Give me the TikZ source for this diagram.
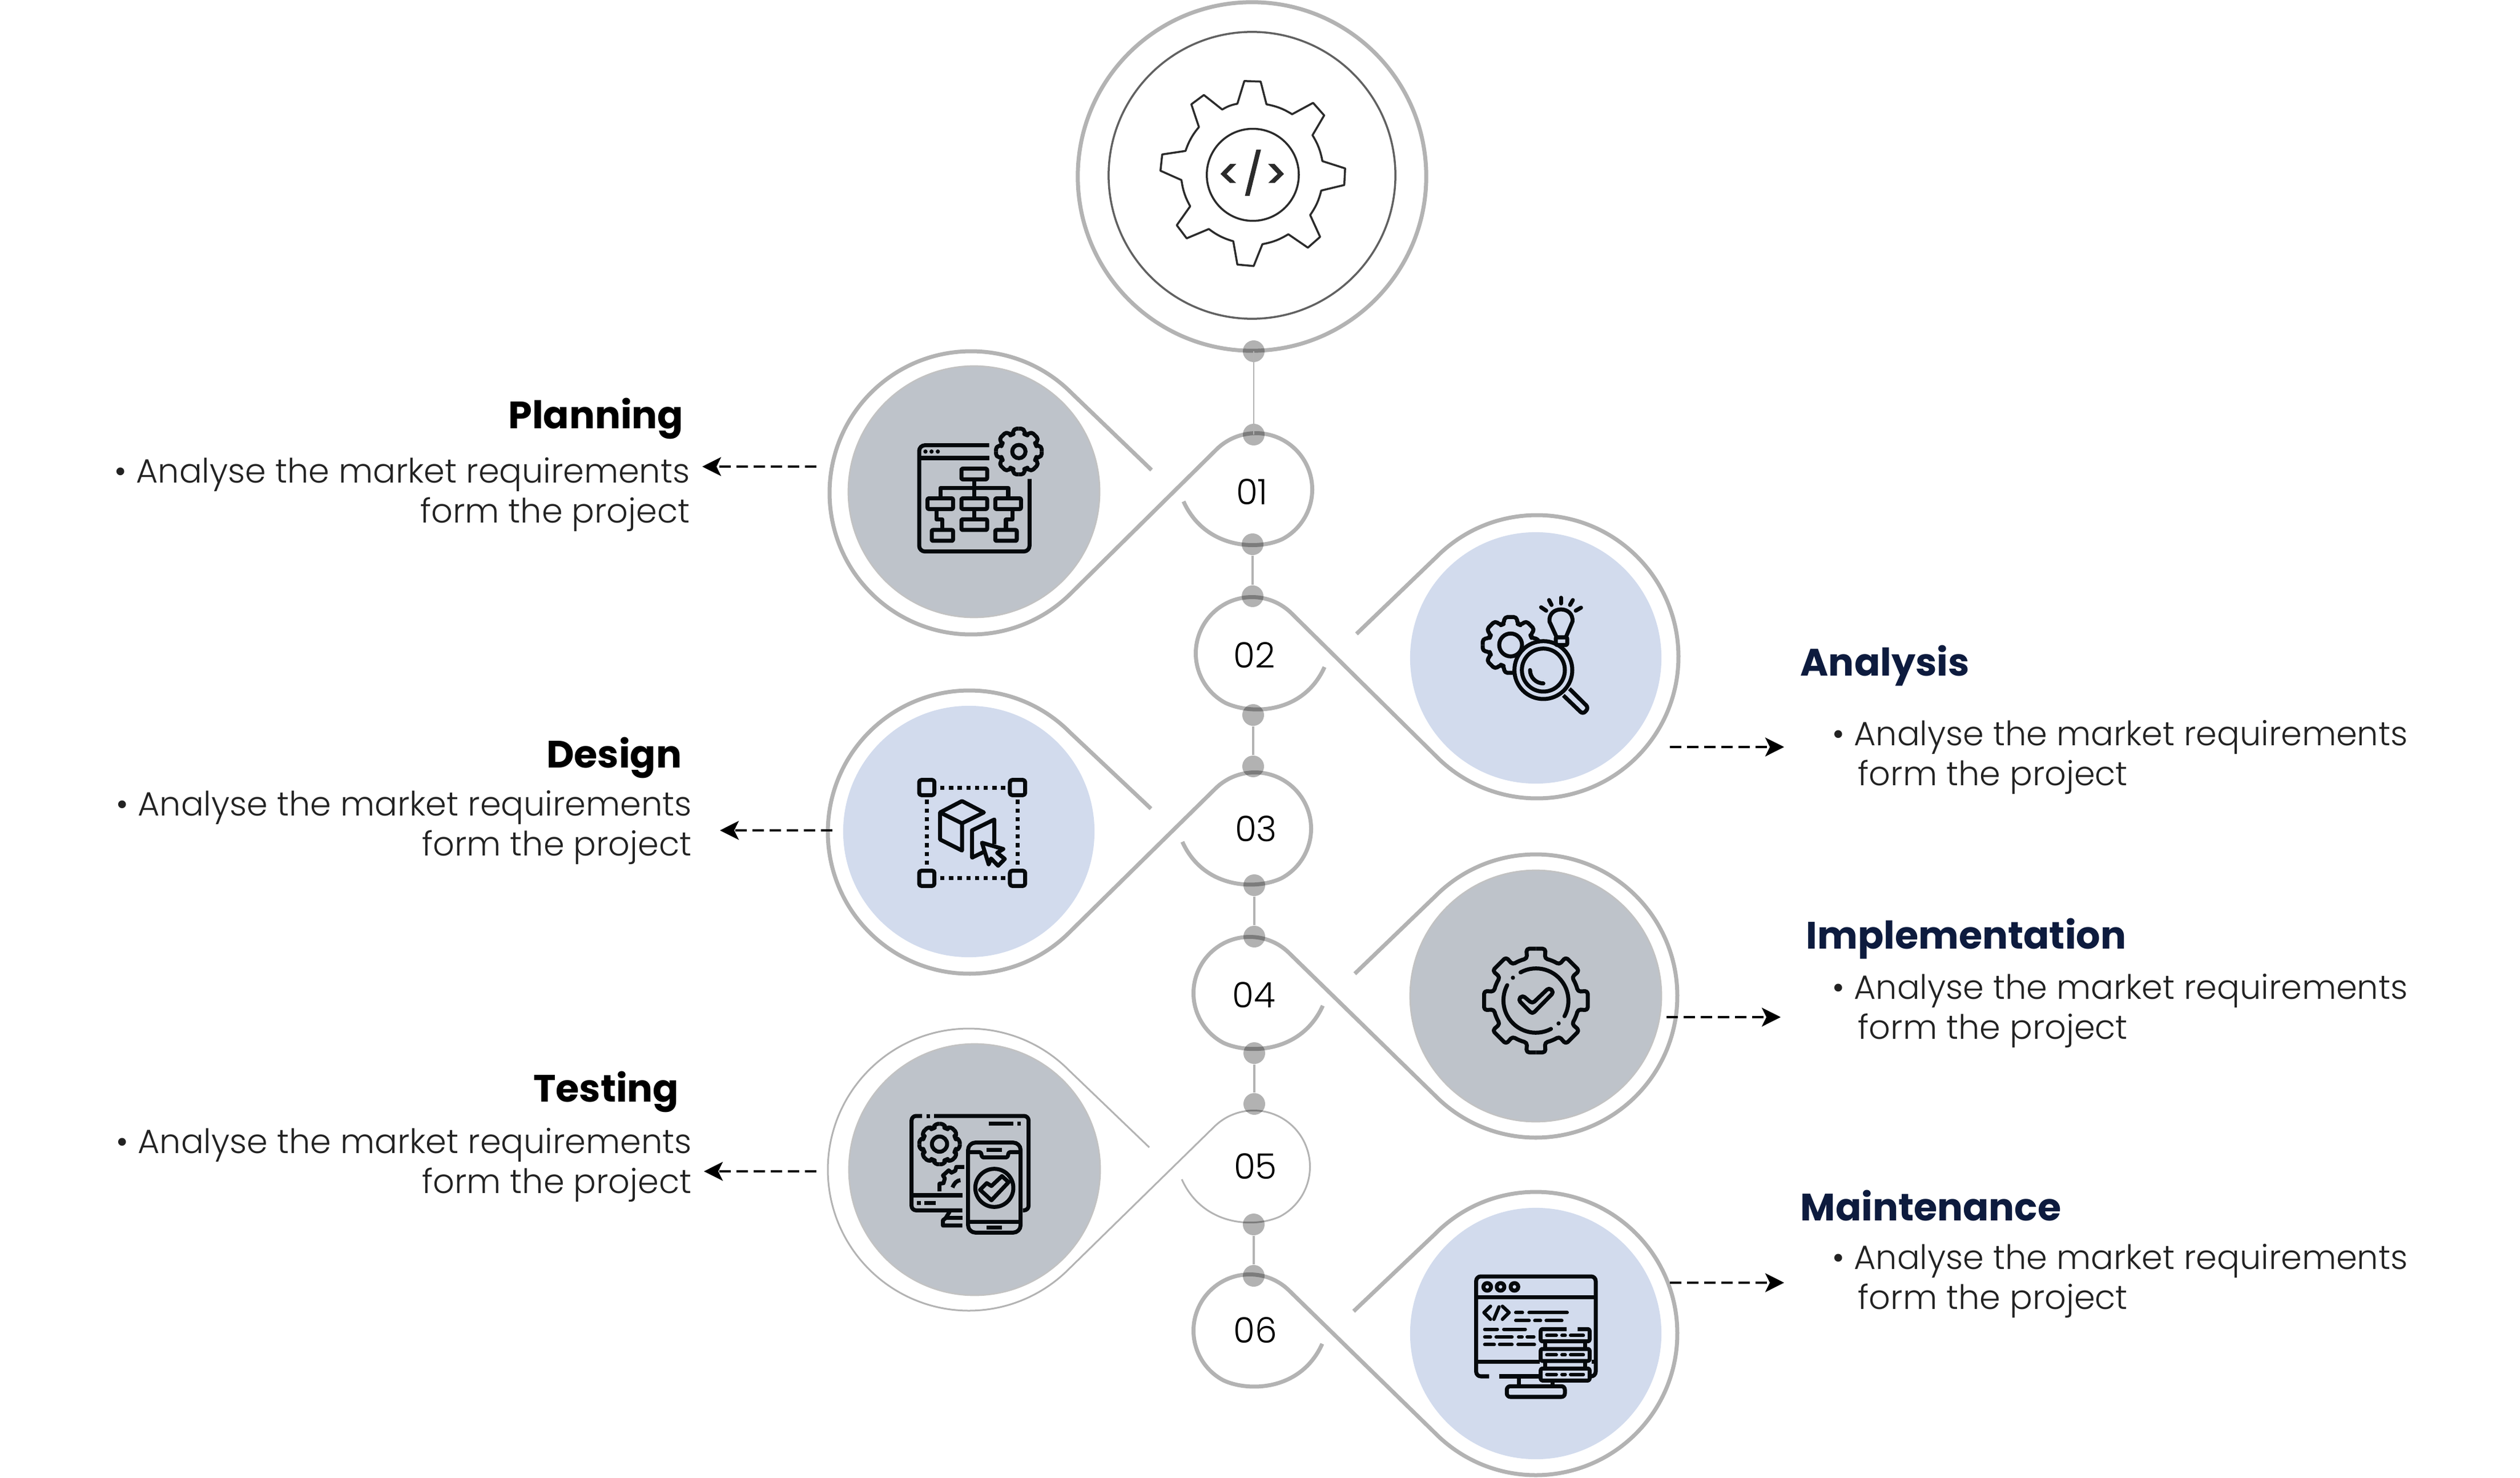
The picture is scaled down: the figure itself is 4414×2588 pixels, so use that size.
\documentclass[tikz,border=0pt]{standalone}
\usepackage{fontspec}
\usepackage{tikz}
\usetikzlibrary{calc,arrows.meta}
\newfontfamily\bodyfont{Poppins Light}
\newfontfamily\headfont{Poppins Bold}
\definecolor{linegray}{HTML}{B3B3B3}
\definecolor{discgray}{HTML}{BEC3CA}
\definecolor{discblue}{HTML}{D2DBED}
\definecolor{titlenavy}{HTML}{0D1B3E}
\definecolor{iconblack}{HTML}{05090C}
\definecolor{textgray}{HTML}{222222}
\newcommand{\cogwheel}[5]{
\foreach \a in {0,45,...,315}
\draw[rounded corners=0.05cm] ($(#1)+(\a:{#3*cos(#4)})$) -- ($(#1)+(\a+#4:#3)$) -- ($(#1)+(\a+#5:#2)$)
arc[start angle=\a+#5,end angle=\a+45-#5,radius=#2] -- ($(#1)+(\a+45-#4:#3)$) -- ($(#1)+(\a+45:{#3*cos(#4)})$);
}
\begin{document}
\begin{tikzpicture}
[x=0.01cm,y=-0.01cm,>=stealth,
dropline/.style = {draw=linegray, line width=0.07cm, line join=round},
thinline/.style = {draw=linegray, line width=0.03cm, line join=round},
link/.style = {draw=linegray, line width=0.045cm},
dot/.style = {circle, fill=black, fill opacity=0.3, minimum size=0.38cm, inner sep=0pt},
greydisc/.style = {circle, fill=discgray, draw=linegray!80!white, line width=0.025cm, minimum size=4.4cm, inner sep=0pt},
bluedisc/.style = {circle, fill=discblue, minimum size=4.4cm, inner sep=0pt},
number/.style = {font=\bodyfont\fontsize{17.5}{20}\selectfont, text=black, inner sep=0pt},
lefttitle/.style = {font=\headfont\fontsize{19}{24}\selectfont, text=black, anchor=base east, inner sep=0pt},
righttitle/.style = {font=\headfont\fontsize{19}{24}\selectfont, text=titlenavy, anchor=base west, inner sep=0pt},
leftbody/.style = {font=\bodyfont\fontsize{16.75}{19.9}\selectfont, text=textgray, align=right, anchor=base east, inner sep=0pt},
rightbody/.style = {font=\bodyfont\fontsize{16.75}{19.9}\selectfont, text=textgray, align=left, anchor=base west, inner sep=0pt},
dasharrow/.style = {draw=black, line width=0.035cm, dash pattern=on 0.2cm off 0.1cm, -{Stealth[length=0.33cm,width=0.33cm,inset=0.08cm]}},
icon/.style = {draw=iconblack, line width=0.07cm, line join=round},
iconbar/.style = {draw=iconblack, line width=0.06cm, line cap=round},
]
\useasboundingbox (0,0) rectangle (4414,2588);
\node (outer) at (2193,309)[circle, draw=linegray, line width=0.07cm, minimum size=6.1cm, inner sep=0pt] {};
\node (inner) at (2193,307)[circle, draw=black!62, line width=0.035cm, minimum size=5.02cm, inner sep=0pt] {};
\begin{scope}[shift={(1800,0)},scale=0.5102]
\draw[draw=black!83, line width=0.035cm, line join=round] (744,278) -- (800,280) -- (820,358) to[bend left=10] (908,392) -- (980,353) -- (1018,396) -- (978,464) to[bend left=10] (1012,553) -- (1090,578) -- (1087,635) -- (1008,654) to[bend left=10] (970,738) -- (1004,813) -- (962,850) -- (895,804) to[bend left=10] (806,838) -- (776,913) -- (720,908) -- (706,828) to[bend left=10] (622,786) -- (546,818) -- (512,773) -- (558,708) to[bend left=10] (528,618) -- (456,586) -- (462,530) -- (542,518) to[bend left=10] (588,436) -- (562,358) -- (605,326) -- (668,376) to[bend left=10] (720,356) -- cycle;
\draw[draw=black!83, line width=0.035cm] (773,600) circle (158);
\fill[black!83] (662,597) -- (695,563) -- (716,563) -- (683,597) -- (716,628) -- (695,628) -- cycle;
\fill[black!83] (826,563) -- (848,563) -- (880,597) -- (848,628) -- (826,628) -- (858,597) -- cycle;
\fill[black!83] (785,514) -- (801,514) -- (762,672) -- (746,672) -- cycle;
\end{scope}
\node (B1) at (1706,861)[greydisc] {};
\node (B2) at (2690,1152)[bluedisc] {};
\node (B3) at (1697,1456)[bluedisc] {};
\node (B4) at (2690,1744)[greydisc] {};
\node (B5) at (1707,2048)[greydisc] {};
\node (B6) at (2690,2335)[bluedisc] {};
\node (N1) at (2193,861)[number] {01};
\node (N2) at (2197,1147)[number] {02};
\node (N3) at (2200,1451)[number] {03};
\node (N4) at (2196,1742)[number] {04};
\node (N5) at (2199,2042)[number] {05};
\node (N6) at (2199,2329)[number] {06};
\coordinate (O1) at (1701,863);
\coordinate (O2) at (2692,1150);
\coordinate (O3) at (1698,1457);
\coordinate (O4) at (2690,1744);
\coordinate (O5) at (1697,2048);
\coordinate (O6) at (2690,2335);
\coordinate (S1) at (2200,857);
\coordinate (S2) at (2193,1144);
\coordinate (S3) at (2198,1451);
\coordinate (S4) at (2189,1739);
\coordinate (S5) at (2196,2043);
\coordinate (S6) at (2189,2330);
\coordinate (T1) at (2017,823);
\coordinate (E1) at (2073,878);
\coordinate (T2) at (2376,1110);
\coordinate (E2) at (2320,1168);
\coordinate (T3) at (2016,1416);
\coordinate (E3) at (2071,1474);
\coordinate (T4) at (2373,1705);
\coordinate (E4) at (2317,1761);
\coordinate (T5) at (2013,2009);
\coordinate (E5) at (2070,2065);
\coordinate (T6) at (2371,2296);
\coordinate (E6) at (2316,2353);
\draw[dropline] (T1) -- ($(O1)+(-44.6:248)$) arc[start angle=-44.6,end angle=-315.4,radius=248] -- ($(S1)+(-135.4:98.5)$) arc[start angle=-135.4,end angle=62,radius=98.5] .. controls +(-45,21) and +(37,82) .. (E1);
\draw[dropline] (T2) -- ($(O2)+(-135.4:248)$) arc[start angle=-135.4,end angle=135.4,radius=248] -- ($(S2)+(-44.6:98.5)$) arc[start angle=-44.6,end angle=-242,radius=98.5] .. controls +(45,21) and +(-37,82) .. (E2);
\draw[dropline] (T3) -- ($(O3)+(-44.6:248)$) arc[start angle=-44.6,end angle=-315.4,radius=248] -- ($(S3)+(-135.4:98.5)$) arc[start angle=-135.4,end angle=62,radius=98.5] .. controls +(-45,21) and +(37,82) .. (E3);
\draw[dropline] (T4) -- ($(O4)+(-135.4:248)$) arc[start angle=-135.4,end angle=135.4,radius=248] -- ($(S4)+(-44.6:98.5)$) arc[start angle=-44.6,end angle=-242,radius=98.5] .. controls +(45,21) and +(-37,82) .. (E4);
\draw[thinline] (T5) -- ($(O5)+(-44.6:247)$) arc[start angle=-44.6,end angle=-315.4,radius=247] -- ($(S5)+(-135.4:98.5)$) arc[start angle=-135.4,end angle=62,radius=98.5] .. controls +(-45,21) and +(37,82) .. (E5);
\draw[dropline] (T6) -- ($(O6)+(-135.4:248)$) arc[start angle=-135.4,end angle=135.4,radius=248] -- ($(S6)+(-44.6:98.5)$) arc[start angle=-44.6,end angle=-242,radius=98.5] .. controls +(45,21) and +(-37,82) .. (E6);
\node (D0) at (2196,615)[dot] {};
\node (D1) at (2196,761)[dot] {};
\node (D2) at (2194,953)[dot] {};
\node (D3) at (2194,1044)[dot] {};
\node (D4) at (2195,1252)[dot] {};
\node (D5) at (2195,1342)[dot] {};
\node (D6) at (2197,1550)[dot] {};
\node (D7) at (2197,1640)[dot] {};
\node (D8) at (2197,1844)[dot] {};
\node (D9) at (2197,1933)[dot] {};
\node (D10) at (2196,2144)[dot] {};
\node (D11) at (2196,2234)[dot] {};
\draw[draw=linegray, line width=0.02cm] (D0.center)--(D1.center);
\draw[link] (D2)--(D3);
\draw[link] (D4)--(D5);
\draw[link] (D6)--(D7);
\draw[link] (D8)--(D9);
\draw[link] (D10)--(D11);
\begin{scope}[shift={(1590,730)},scale=0.3333]
\draw[icon, rounded corners=0.1cm] (428,149) -- (60,149) -- (60,707) -- (640,707) -- (640,326);
\draw[icon] (60,216) -- (428,216);
\fill[iconblack] (93,182) circle (11) (125,182) circle (11) (158,182) circle (11);
\begin{scope}[icon]
\cogwheel{584,182}{95}{123}{13}{19}
\end{scope}
\draw[icon] (584,182) circle (35);
\draw[icon, rounded corners=0.02cm] (282,272) rectangle (417,328);
\draw[icon, rounded corners=0.02cm] (104,428) rectangle (238,484);
\draw[icon, rounded corners=0.02cm] (282,428) rectangle (417,484);
\draw[icon, rounded corners=0.02cm] (460,428) rectangle (595,484);
\draw[icon, rounded corners=0.02cm] (126,594) rectangle (238,651);
\draw[icon, rounded corners=0.02cm] (282,538) rectangle (417,594);
\draw[icon, rounded corners=0.02cm] (460,594) rectangle (573,651);
\draw[icon] (350,338) -- (350,428);
\draw[icon] (172,418) -- (172,373) -- (528,373) -- (528,418);
\draw[icon] (350,494) -- (350,528);
\draw[icon] (150,494) -- (150,539) -- (182,539) -- (182,584);
\draw[icon] (550,494) -- (550,539) -- (516,539) -- (516,584);
\end{scope}
\begin{scope}[shift={(2570,1030)},scale=0.3333]
\begin{scope}[icon]
\cogwheel{228,298}{115}{150}{12}{19}
\end{scope}
\draw[icon] (228,298) circle (60);
\fill[discblue] (400,430) circle (152);
\draw[icon] (400,430) circle (152);
\draw[icon] (400,430) circle (113);
\draw[icon, line cap=round] (330,430) arc[start angle=180,end angle=90,radius=70];
\draw[icon, rounded corners=0.06cm] (537,528) -- (638,628) -- (608,662) -- (505,563);
\draw[icon] (470,258) -- (432,175) .. controls (425,90) and (560,90) .. (553,175) -- (518,258);
\draw[icon, rounded corners=0.02cm] (465,258) rectangle (525,298);
\draw[icon, line cap=round] (388,100) -- (415,118);
\draw[icon, line cap=round] (430,62) -- (443,88);
\draw[icon, line cap=round] (492,50) -- (492,80);
\draw[icon, line cap=round] (555,62) -- (540,88);
\draw[icon, line cap=round] (598,102) -- (570,118);
\end{scope}
\begin{scope}[shift={(1550,1300)},scale=0.3333]
\draw[icon, rounded corners=0.04cm] (180,197) rectangle (260,277);
\draw[icon, rounded corners=0.04cm] (657,197) rectangle (737,277);
\draw[icon, rounded corners=0.04cm] (180,674) rectangle (260,754);
\draw[icon, rounded corners=0.04cm] (657,674) rectangle (737,754);
\draw[icon, dash pattern=on 0.073cm off 0.079cm] (291,237) -- (633,237);
\draw[icon, dash pattern=on 0.073cm off 0.079cm] (291,714) -- (633,714);
\draw[icon, dash pattern=on 0.073cm off 0.079cm] (220,301) -- (220,643);
\draw[icon, dash pattern=on 0.073cm off 0.079cm] (697,301) -- (697,643);
\draw[icon] (405,308) -- (520,368) -- (405,425) -- (290,368) -- cycle;
\draw[icon] (290,368) -- (290,510) -- (405,568) -- (405,425);
\draw[icon] (520,575) -- (458,605) -- (458,462) -- (575,405) -- (575,535);
\draw[icon] (510,527) -- (622,560) -- (590,580) -- (630,612) -- (595,648) -- (558,610) -- (545,640) -- cycle;
\end{scope}
\begin{scope}[shift={(2540,1620)},scale=0.3333]
\begin{scope}[icon]
\cogwheel{451,396}{225}{277}{10.5}{12}
\end{scope}
\draw[icon, line cap=round] (370,248) arc[start angle=-118.7,end angle=28.5,radius=170];
\draw[icon, line cap=round] (530,545) arc[start angle=62,end angle=208,radius=170];
\fill[iconblack] (330,276) circle (11) (570,516) circle (11);
\draw[icon, rounded corners=0.05cm] (358,392) -- (432,467) -- (545,352) -- (520,328) -- (432,412) -- (380,368) -- cycle;
\end{scope}
\begin{scope}[shift={(1540,1920)},scale=0.3333]
\draw[icon, rounded corners=0.08cm] (225,102) -- (170,102) -- (170,598) -- (437,598);
\draw[icon, rounded corners=0.08cm] (288,102) -- (785,102) -- (785,598) -- (755,598);
\draw[icon] (248,102) -- (268,102);
\draw[icon] (575,142) -- (705,142);
\draw[icon] (725,142) -- (745,142);
\draw[icon] (170,519) -- (437,519);
\draw[icon] (198,559) -- (218,559);
\draw[icon] (238,559) -- (298,559);
\draw[icon] (370,605) -- (350,638) -- (335,650) -- (335,678) -- (437,678);
\draw[icon] (350,638) -- (437,638);
\begin{scope}[icon]
\cogwheel{317,250}{88}{109}{13}{19}
\end{scope}
\draw[icon] (317,250) circle (40);
\draw[icon] (317,498) -- (317,458) -- (338,455) -- (345,430) -- (335,415) -- (365,388) -- (380,400) -- (400,390) -- (405,370) -- (447,370);
\draw[icon] (385,478) .. controls (395,455) and (405,442) .. (427,440);
\draw[icon, rounded corners=0.13cm] (467,242) rectangle (743,715);
\draw[icon, rounded corners=0.03cm] (467,292) -- (535,292) -- (540,320) -- (675,320) -- (680,292) -- (743,292);
\draw[icon] (565,281) -- (645,281);
\draw[icon] (467,660) -- (743,660);
\draw[icon] (565,689) -- (645,689);
\draw[icon] (605,480) circle (100);
\draw[icon] (530,490) -- (590,545) -- (680,450) -- (645,418) -- (590,470) -- (565,455) -- cycle;
\end{scope}
\begin{scope}[shift={(2540,2200)},scale=0.3333]
\draw[icon, rounded corners=0.08cm] (205,630) -- (137,630) -- (137,105) -- (765,105) -- (765,630) -- (745,630);
\draw[icon] (258,630) -- (470,630);
\draw[icon] (137,215) -- (765,215);
\draw[icon] (137,552) -- (470,552);
\draw[icon] (745,552) -- (765,552);
\draw[icon] (195,160) circle (20);
\draw[icon] (265,160) circle (20);
\draw[icon] (338,160) circle (20);
\draw[iconbar, line join=round] (212,262) -- (178,295) -- (212,330);
\draw[iconbar] (257,265) -- (230,330);
\draw[iconbar, line join=round] (275,262) -- (310,295) -- (275,330);
\draw[iconbar] (345,295) -- (380,295) (415,295) -- (615,295);
\draw[iconbar] (345,337) -- (415,337) (445,337) -- (475,337) (505,337) -- (587,337);
\draw[iconbar] (182,383) -- (248,383) (282,383) -- (395,383);
\draw[iconbar] (182,423) -- (212,423) (242,423) -- (325,423) (360,423) -- (378,423) (405,423) -- (440,423);
\draw[iconbar] (182,463) -- (232,463) (260,463) -- (325,463) (357,463) -- (443,463);
\draw[icon, rounded corners=0.03cm] (612,382) -- (476,382) -- (476,446) -- (733,446) -- (733,382) -- (670,382);
\draw[icon, rounded corners=0.03cm] (476,486) rectangle (733,549);
\draw[icon, rounded corners=0.03cm] (476,589) rectangle (733,652);
\foreach \y in {415,517,620} {
\draw[iconbar] (508,\y) -- (558,\y) (588,\y) -- (605,\y) (633,\y) -- (700,\y);
}
\draw[icon] (500,446) -- (500,486) (708,446) -- (708,486) (500,549) -- (500,589) (708,549) -- (708,589);
\draw[icon] (362,640) -- (362,682) (538,660) -- (538,682);
\draw[icon, rounded corners=0.06cm] (298,682) rectangle (603,738);
\end{scope}
\node (TP) at (1198,750)[lefttitle] {Planning};
\node (TD) at (1195,1344)[lefttitle] {Design};
\node (TT) at (1190,1929)[lefttitle] {Testing};
\node (TA) at (3153,1183)[righttitle] {Analysis};
\node (TI) at (3163,1661)[righttitle] {Implementation};
\node (TM) at (3153,2137)[righttitle] {Maintenance};
\node (XP) at (1209,915)[leftbody] {• Analyse the market requirements\\form the project};
\node (XD) at (1212,1498)[leftbody] {• Analyse the market requirements\\form the project};
\node (XT) at (1212,2089)[leftbody] {• Analyse the market requirements\\form the project};
\node (XA) at (3209,1375)[rightbody] {• Analyse the market requirements\\\hspace*{12.8pt}form the project};
\node (XI) at (3209,1819)[rightbody] {• Analyse the market requirements\\\hspace*{12.8pt}form the project};
\node (XM) at (3209,2292)[rightbody] {• Analyse the market requirements\\\hspace*{12.8pt}form the project};
\coordinate (AP) at (1430,817);
\coordinate (AP2) at (1230,817);
\coordinate (AD) at (1458,1454);
\coordinate (AD2) at (1261,1454);
\coordinate (AT) at (1430,2051);
\coordinate (AT2) at (1233,2051);
\coordinate (AA) at (2925,1308);
\coordinate (AA2) at (3125,1308);
\coordinate (AI) at (2919,1781);
\coordinate (AI2) at (3119,1781);
\coordinate (AM) at (2925,2246);
\coordinate (AM2) at (3125,2246);
\draw[dasharrow] (AP)--(AP2);
\draw[dasharrow] (AD)--(AD2);
\draw[dasharrow] (AT)--(AT2);
\draw[dasharrow] (AA)--(AA2);
\draw[dasharrow] (AI)--(AI2);
\draw[dasharrow] (AM)--(AM2);
\end{tikzpicture}
\end{document}
